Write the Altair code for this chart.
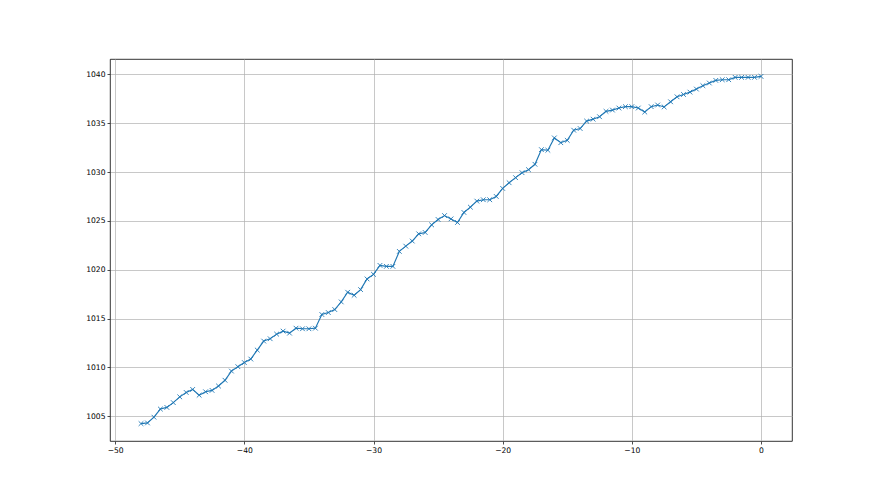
import altair as alt
import pandas as pd

# hours (step 0.5 from -48 to 0)
hours = [i * 0.5 - 48 for i in range(97)]

pressure = [
    1004.24, 1004.31, 1004.90, 1005.73, 1005.90, 1006.39, 1006.98, 1007.43, 1007.74, 1007.15,
    1007.50, 1007.64, 1008.09, 1008.68, 1009.62, 1010.07, 1010.49,
    1010.85, 1011.77, 1012.69, 1012.93, 1013.40, 1013.71, 1013.50, 1014.01, 1013.95, 1013.95,
    1014.01, 1015.41, 1015.61, 1015.92, 1016.70, 1017.69,
    1017.38, 1017.96, 1019.05, 1019.52, 1020.44, 1020.34, 1020.34, 1021.87, 1022.41, 1022.93,
    1023.67, 1023.81, 1024.59, 1025.14, 1025.54, 1025.20,
    1024.83, 1025.86, 1026.40, 1027.02, 1027.16, 1027.16, 1027.50, 1028.32, 1028.90, 1029.42,
    1029.93, 1030.24, 1030.79, 1032.29, 1032.23, 1033.49,
    1033.00, 1033.24, 1034.28, 1034.45, 1035.21, 1035.41, 1035.66, 1036.21, 1036.34, 1036.55,
    1036.69, 1036.69, 1036.55, 1036.14, 1036.69, 1036.86,
    1036.66, 1037.19, 1037.70, 1037.94, 1038.18, 1038.49, 1038.84, 1039.11, 1039.38, 1039.45,
    1039.45, 1039.69, 1039.69, 1039.69, 1039.69, 1039.79,
]

x_ticks = [-50, -40, -30, -20, -10, 0]
y_ticks = [1005, 1010, 1015, 1020, 1025, 1030, 1035, 1040]

df = pd.DataFrame({"h": hours, "p": pressure})

color = "#1f77b4"

x_enc = alt.X(
    "h:Q",
    scale=alt.Scale(domain=[-50.4, 2.4], nice=False, zero=False),
    axis=alt.Axis(values=x_ticks, title=None, format="d"),
)
y_enc = alt.Y(
    "p:Q",
    scale=alt.Scale(domain=[1002.46, 1041.57], nice=False, zero=False),
    axis=alt.Axis(values=y_ticks, title=None, format="d"),
)

line = alt.Chart(df).mark_line(color=color, strokeWidth=1.15).encode(x=x_enc, y=y_enc)
pts = alt.Chart(df).mark_point(
    shape="M-1,-1L1,1M-1,1L1,-1",
    filled=False,
    color=color,
    strokeWidth=0.9,
    size=22,
    opacity=1,
).encode(x="h:Q", y="p:Q")

chart = (
    alt.layer(line, pts)
    .properties(
        width=682,
        height=382,
        autosize=alt.AutoSizeParams(type="none"),
        padding={"left": 102, "top": 51, "right": 80, "bottom": 46},
    )
    .configure_view(stroke="#000000", strokeWidth=0.8)
    .configure_axis(
        grid=True,
        gridColor="#b0b0b0",
        gridWidth=0.7,
        domain=False,
        tickColor="#000000",
        tickSize=3,
        tickWidth=0.7,
        labelFont="DejaVu Sans",
        labelFontSize=7.6,
        labelColor="#000000",
        labelPadding=2,
    )
    .configure_axisX(labelBaseline="top")
)

chart.save("out.html", embed_options={"renderer": "svg", "actions": False})
